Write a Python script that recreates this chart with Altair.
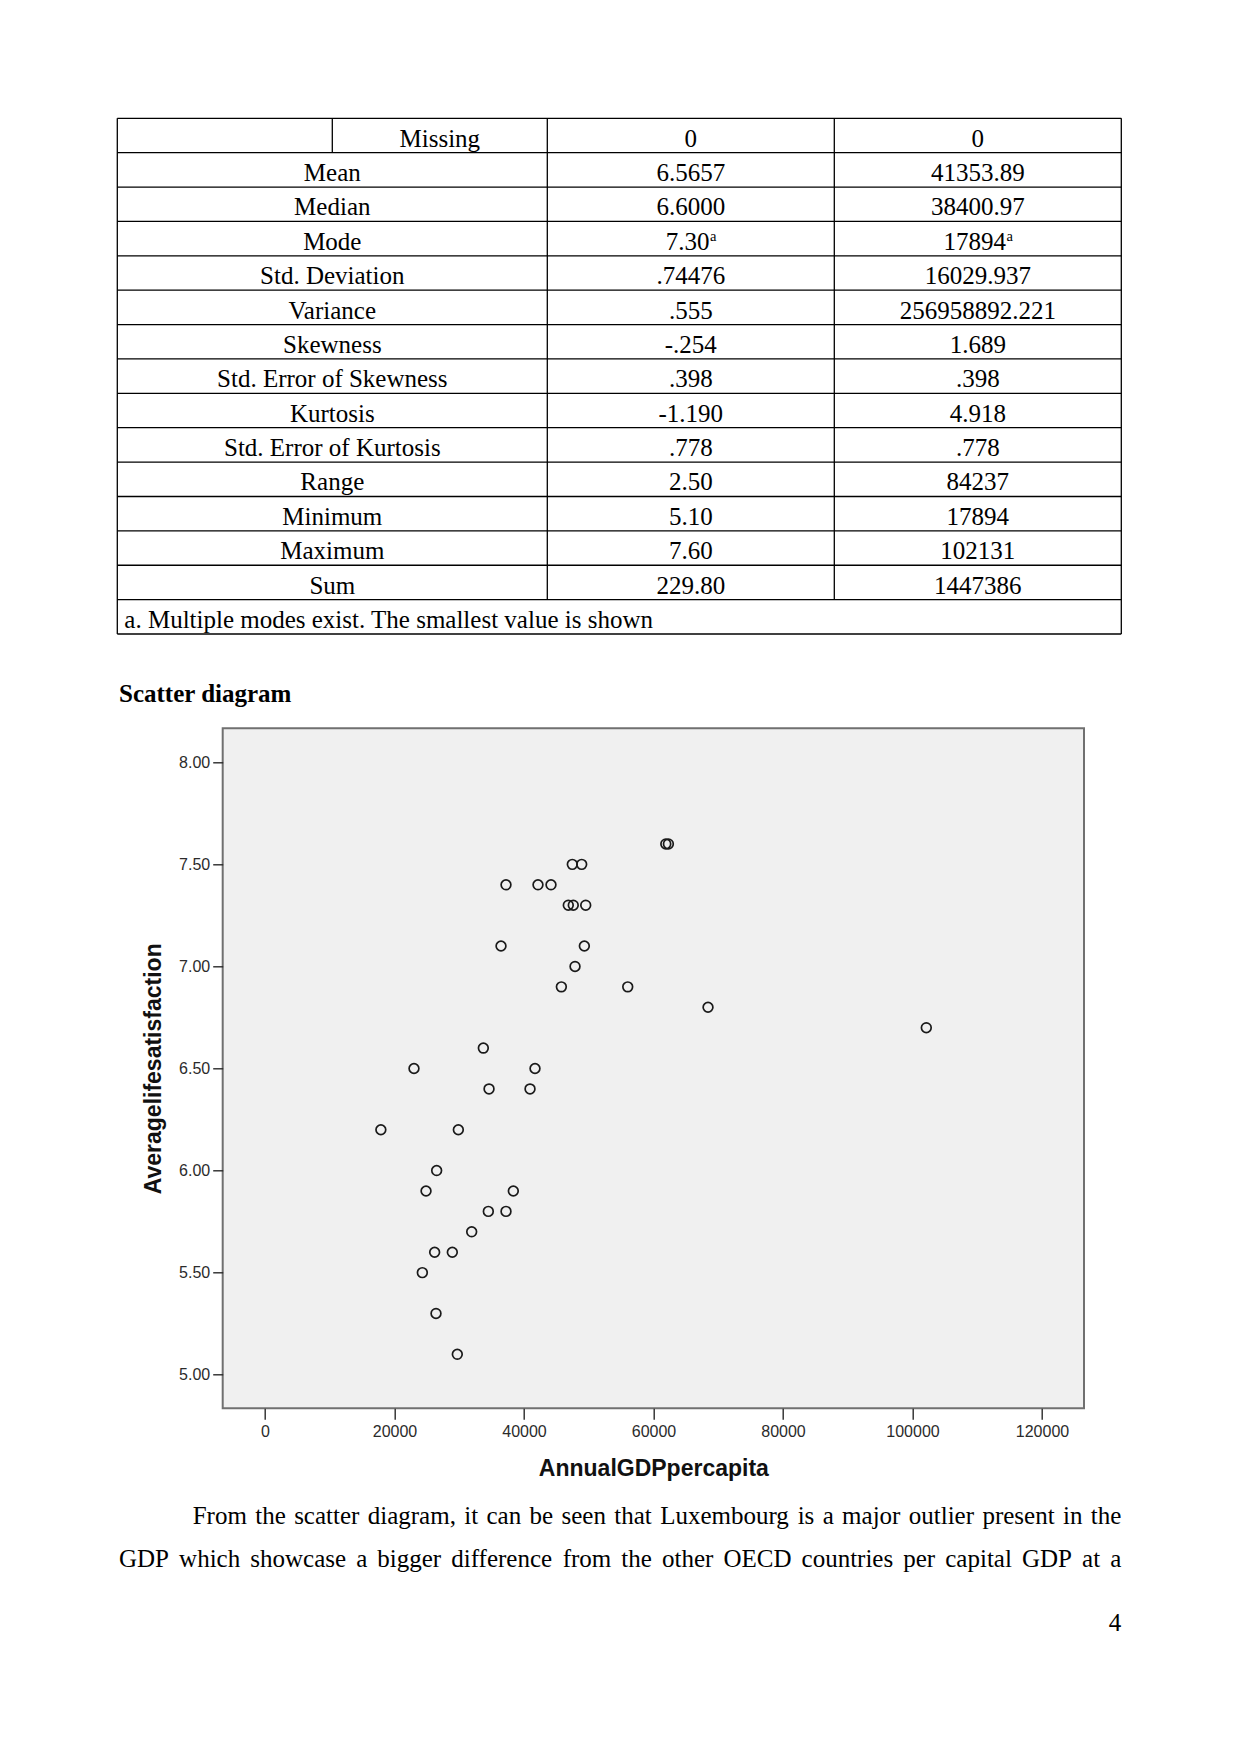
import altair as alt
import pandas as pd

# ---------------- data ----------------
# Scatter: annual GDP per capita vs average life satisfaction (35 OECD countries)
gdp = [61900, 62300,
       47460, 48910,
       37220, 42160, 44170,
       46840, 47610, 49530,
       36450, 49320,
       47880,
       45770, 56020,
       68420,
       102131,
       33720,
       23010, 41700,
       34600, 40930,
       17894, 29860,
       26510,
       24870, 38350,
       34490, 37220,
       31920,
       26200, 28930,
       24300,
       26410,
       29700]
life_sat = [7.6, 7.6,
            7.5, 7.5,
            7.4, 7.4, 7.4,
            7.3, 7.3, 7.3,
            7.1, 7.1,
            7.0,
            6.9, 6.9,
            6.8,
            6.7,
            6.6,
            6.5, 6.5,
            6.4, 6.4,
            6.2, 6.2,
            6.0,
            5.9, 5.9,
            5.8, 5.8,
            5.7,
            5.6, 5.6,
            5.5,
            5.3,
            5.1]

x_ticks = [0, 20000, 40000, 60000, 80000, 100000, 120000]
y_ticks = [5.0, 5.5, 6.0, 6.5, 7.0, 7.5, 8.0]

# Descriptive statistics table
stat_labels = ["Missing", "Mean", "Median", "Mode", "Std. Deviation", "Variance",
               "Skewness", "Std. Error of Skewness", "Kurtosis",
               "Std. Error of Kurtosis", "Range", "Minimum", "Maximum", "Sum"]
col_sat = ["0", "6.5657", "6.6000", "7.30", ".74476", ".555", "-.254", ".398",
           "-1.190", ".778", "2.50", "5.10", "7.60", "229.80"]
col_gdp = ["0", "41353.89", "38400.97", "17894", "16029.937", "256958892.221",
           "1.689", ".398", "4.918", ".778", "84237", "17894", "102131", "1447386"]
footnote = "a. Multiple modes exist. The smallest value is shown"
heading = "Scatter diagram"
para_lines = [
    "From the scatter diagram, it can be seen that Luxembourg is a major outlier present in the",
    "GDP which showcase a bigger difference from the other OECD countries per capital GDP at a",
]
page_no = "4"

# ---------------- layout constants ----------------
PL, PT = 222.7, 728.3          # plot area origin on the page
W, H = 861.3, 680.0            # plot area size
PAGE_W, PAGE_H = 1241, 1754
FS = 25                        # body font size (12 pt at 150 dpi)

SERIF = "Liberation Serif"
SANS = "Liberation Sans"

# ---------------- scatter ----------------
scatter_df = pd.DataFrame({"gdp": gdp, "sat": life_sat})
scatter = alt.Chart(scatter_df).mark_point(
    shape="circle", filled=False, size=95, strokeWidth=1.7, color="#1a1a1a", opacity=1
).encode(
    x=alt.X("gdp:Q",
            scale=alt.Scale(domain=[-6533, 126486], nice=False, zero=False),
            axis=alt.Axis(values=x_ticks, format="d", grid=False, domain=False,
                          title="AnnualGDPpercapita", titleFont=SANS, titleFontSize=23,
                          titleFontWeight="bold", titleColor="#111111",
                          titleBaseline="alphabetic", titleX=W / 2, titleY=66.7,
                          titleAlign="center",
                          labelFont=SANS, labelFontSize=16, labelColor="#2b2b2b",
                          labelPadding=4, tickColor="#2b2b2b", tickSize=11,
                          tickWidth=1.4, labelFlush=False, labelOverlap=False)),
    y=alt.Y("sat:Q",
            scale=alt.Scale(domain=[4.8354, 8.1666], nice=False, zero=False),
            axis=alt.Axis(values=y_ticks, format=".2f", grid=False, domain=False,
                          title="Averagelifesatisfaction", titleFont=SANS,
                          titleFontSize=23, titleFontWeight="bold",
                          titleColor="#111111", titleAngle=270,
                          titleBaseline="bottom", titleAlign="center",
                          titleX=-57, titleY=H / 2,
                          labelFont=SANS, labelFontSize=16, labelColor="#2b2b2b",
                          labelPadding=3, tickColor="#2b2b2b", tickSize=10,
                          tickWidth=1.4, labelFlush=False, labelOverlap=False)),
)

# ---------------- table ----------------
col_edges_px = [117.3, 332.3, 547.3, 834.3, 1121.3]
xt = alt.Scale(domain=[0, 1, 2, 3, 4], range=[v - PL for v in col_edges_px],
               nice=False, zero=False)
yt = alt.Scale(domain=[0, 15], range=[118.3 - PT, 634.0 - PT], nice=False, zero=False)

hlines = pd.DataFrame({"b": list(range(16)), "x0": [0] * 16, "x1": [4] * 16})
vlines = pd.DataFrame({"c": [0, 1, 2, 3, 4], "r0": [0] * 5, "r1": [15, 1, 14, 14, 15]})

h_rules = alt.Chart(hlines).mark_rule(color="black", strokeWidth=1.3).encode(
    y=alt.Y("b:Q", scale=yt, axis=None),
    x=alt.X("x0:Q", scale=xt, axis=None),
    x2="x1:Q",
)
v_rules = alt.Chart(vlines).mark_rule(color="black", strokeWidth=1.3).encode(
    x=alt.X("c:Q", scale=xt, axis=None),
    y=alt.Y("r0:Q", scale=yt, axis=None),
    y2="r1:Q",
)

cells = []
for i, lab in enumerate(stat_labels):
    cells.append({"t": lab, "cx": 1.5 if i == 0 else 1.0, "rb": i + 1})
    if lab != "Mode":
        cells.append({"t": col_sat[i], "cx": 2.5, "rb": i + 1})
        cells.append({"t": col_gdp[i], "cx": 3.5, "rb": i + 1})
cells_df = pd.DataFrame(cells)

cell_text = alt.Chart(cells_df).mark_text(
    font=SERIF, fontSize=FS, color="black", align="center", baseline="alphabetic", dy=-6
).encode(
    x=alt.X("cx:Q", scale=xt, axis=None),
    y=alt.Y("rb:Q", scale=yt, axis=None),
    text="t:N",
)

mode_row = stat_labels.index("Mode")
mode_layers = []
for val, cx, shift in [(col_sat[mode_row], 2.5, 18.8), (col_gdp[mode_row], 3.5, 28.2)]:
    d = pd.DataFrame({"t": [val], "s": ["a"], "cx": [cx], "rb": [mode_row + 1]})
    main = alt.Chart(d).mark_text(
        font=SERIF, fontSize=FS, color="black", align="right",
        baseline="alphabetic", dx=shift, dy=-6
    ).encode(x=alt.X("cx:Q", scale=xt, axis=None),
             y=alt.Y("rb:Q", scale=yt, axis=None), text="t:N")
    sup = alt.Chart(d).mark_text(
        font=SERIF, fontSize=14.5, color="black", align="left",
        baseline="alphabetic", dx=shift + 0.5, dy=-14.5
    ).encode(x=alt.X("cx:Q", scale=xt, axis=None),
             y=alt.Y("rb:Q", scale=yt, axis=None), text="s:N")
    mode_layers += [main, sup]

foot_df = pd.DataFrame({"t": [footnote], "cx": [0], "rb": [15]})
foot_text = alt.Chart(foot_df).mark_text(
    font=SERIF, fontSize=FS, color="black", align="left", baseline="alphabetic",
    dx=7, dy=-6
).encode(x=alt.X("cx:Q", scale=xt, axis=None),
         y=alt.Y("rb:Q", scale=yt, axis=None), text="t:N")

table = alt.layer(h_rules, v_rules, cell_text, foot_text, *mode_layers)


# ---------------- page text ----------------
def page_text(txt, px, py, bold=False, align="left"):
    return alt.Chart(pd.DataFrame({"t": [txt]})).mark_text(
        font=SERIF, fontSize=FS, color="black", align=align, baseline="alphabetic",
        fontWeight="bold" if bold else "normal"
    ).encode(x=alt.value(px - PL), y=alt.value(py - PT), text="t:N")


# Times-Roman advance widths (per 1000 em) used to justify paragraph lines
_TW = dict(zip("abcdefghijklmnopqrstuvwxyz",
               [444, 500, 444, 500, 444, 333, 500, 500, 278, 278, 500, 278, 778,
                500, 500, 500, 500, 333, 389, 278, 500, 500, 722, 500, 500, 444]))
_TW.update(dict(zip("ABCDEFGHIJKLMNOPQRSTUVWXYZ",
                    [722, 667, 667, 722, 611, 556, 722, 722, 333, 389, 722, 611, 889,
                     722, 722, 556, 722, 667, 556, 611, 722, 722, 944, 722, 722, 611])))
_TW.update({",": 250, ".": 250, " ": 250})


def tw(s):
    return sum(_TW.get(ch, 500) for ch in s) * FS / 1000.0


def justified(line, x0, x1, py):
    words = line.split(" ")
    widths = [tw(w) for w in words]
    gap = (x1 - x0 - sum(widths)) / (len(words) - 1)
    rows, x = [], x0
    for i, (w, wd) in enumerate(zip(words, widths)):
        last = i == len(words) - 1
        rows.append({"t": w, "px": (x1 if last else x) - PL, "al": "right" if last else "left"})
        x += wd + gap
    df = pd.DataFrame(rows)
    base = alt.Chart(df).mark_text(font=SERIF, fontSize=FS, color="black",
                                   baseline="alphabetic")
    left = base.transform_filter("datum.al == 'left'").mark_text(
        font=SERIF, fontSize=FS, color="black", baseline="alphabetic", align="left"
    ).encode(x=alt.X("px:Q", scale=None), y=alt.value(py - PT), text="t:N")
    right = base.transform_filter("datum.al == 'right'").mark_text(
        font=SERIF, fontSize=FS, color="black", baseline="alphabetic", align="right"
    ).encode(x=alt.X("px:Q", scale=None), y=alt.value(py - PT), text="t:N")
    return [left, right]


head = page_text(heading, 119.0, 701.7, bold=True)
para = justified(para_lines[0], 192.7, 1121.3, 1524.0) + \
    justified(para_lines[1], 119.0, 1121.3, 1567.3)
pg = page_text(page_no, 1121.3, 1631.0, align="right")

chart = alt.layer(scatter, table, head, *para, pg).resolve_scale(
    x="independent", y="independent"
).properties(
    width=W, height=H,
    padding={"left": PL, "top": PT, "right": PAGE_W - PL - W, "bottom": PAGE_H - PT - H},
    autosize=alt.AutoSizeParams(type="none"),
    background="white",
).configure_view(
    fill="#f0f0f0", stroke="#707070", strokeWidth=2
)

chart.save("out.html", embed_options={"renderer": "svg", "actions": False})
